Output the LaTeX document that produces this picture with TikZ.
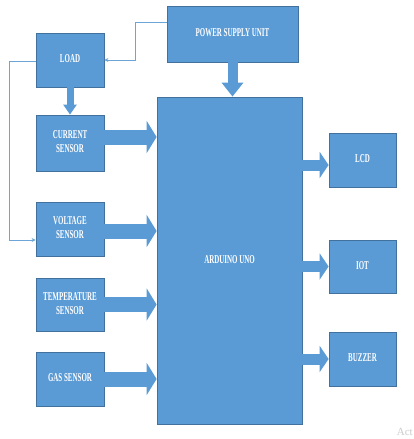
\documentclass[tikz,border=0pt]{standalone}
\usepackage{fontspec}
\setmainfont{Liberation Serif}
\usepackage{graphicx}
\usetikzlibrary{arrows.meta}
\definecolor{boxblue}{RGB}{91,155,213}
\definecolor{edgeblue}{RGB}{65,113,156}
\definecolor{lineblue}{RGB}{110,165,215}
\newcommand\blocktext[1]{\scalebox{0.58}[1]{\begin{tabular}{@{}c@{}}#1\end{tabular}}}
\tikzset{
  block/.style={draw=edgeblue,fill=boxblue,line width=0.8pt,text=white,inner sep=0pt,
    font=\fontsize{12}{14}\selectfont\bfseries},
  fat/.style={boxblue,line width=#1},
  thin/.style={lineblue,line width=0.8pt,-{Stealth[length=4pt,width=4pt]}}
}
\begin{document}
\begin{tikzpicture}[x=1pt,y=-1pt]
\useasboundingbox[fill=white] (0,0) rectangle (414,439);
\node[block,minimum width=131pt,minimum height=56pt] (psu) at (232.5,34) {\blocktext{POWER SUPPLY UNIT}};
\node[block,minimum width=68pt,minimum height=54pt] (load) at (70,60) {\blocktext{LOAD}};
\node[block,minimum width=68pt,minimum height=56pt] (cur) at (70,143) {\blocktext{CURRENT\\SENSOR}};
\node[block,minimum width=68pt,minimum height=54pt] (volt) at (70,229) {\blocktext{VOLTAGE\\SENSOR}};
\node[block,minimum width=68pt,minimum height=53pt] (temp) at (70,304.5) {\blocktext{TEMPERATURE\\SENSOR}};
\node[block,minimum width=68pt,minimum height=54pt] (gas) at (70,379) {\blocktext{GAS SENSOR}};
\node[block,minimum width=145pt,minimum height=327pt] (ard) at (229.5,260.5) {\blocktext{ARDUINO UNO}};
\node[block,minimum width=67pt,minimum height=54pt] (lcd) at (362.5,160) {\blocktext{LCD}};
\node[block,minimum width=67pt,minimum height=53pt] (iot) at (362.5,266.5) {\blocktext{IOT}};
\node[block,minimum width=67pt,minimum height=54pt] (buz) at (362.5,359) {\blocktext{BUZZER}};
\draw[fat=10pt,-{Triangle[length=14pt,width=21pt]}] (psu.south) -- (psu.south |- ard.north);
\draw[fat=7pt,-{Triangle[length=10pt,width=13pt]}] (load.south) -- (cur.north);
\draw[fat=15pt,-{Triangle[length=10pt,width=32pt]}] ([yshift=6pt]cur.east) -- ([yshift=6pt]cur.east -| ard.west);
\draw[fat=15pt,-{Triangle[length=10pt,width=32pt]}] ([yshift=-2pt]volt.east) -- ([yshift=-2pt]volt.east -| ard.west);
\draw[fat=15pt,-{Triangle[length=10pt,width=32pt]}] (temp.east) -- (temp.east -| ard.west);
\draw[fat=15pt,-{Triangle[length=10pt,width=32pt]}] (gas.east) -- (gas.east -| ard.west);
\draw[fat=11pt,-{Triangle[length=9pt,width=26pt]}] ([yshift=-5pt]lcd.west -| ard.east) -- ([yshift=-5pt]lcd.west);
\draw[fat=11pt,-{Triangle[length=9pt,width=26pt]}] (iot.west -| ard.east) -- (iot.west);
\draw[fat=11pt,-{Triangle[length=9pt,width=26pt]}] (buz.west -| ard.east) -- (buz.west);
\draw[thin] ([yshift=12pt]psu.west) -- ++(-31,0) |- (load.east);
\draw[thin] ([yshift=-1pt]load.west) -- ++(-26,0) |- ([yshift=-11pt]volt.west);
\node[gray!40,anchor=east,inner sep=1pt,font=\fontsize{11}{11}\selectfont] (act) at (414,432) {Act};
\end{tikzpicture}
\end{document}
